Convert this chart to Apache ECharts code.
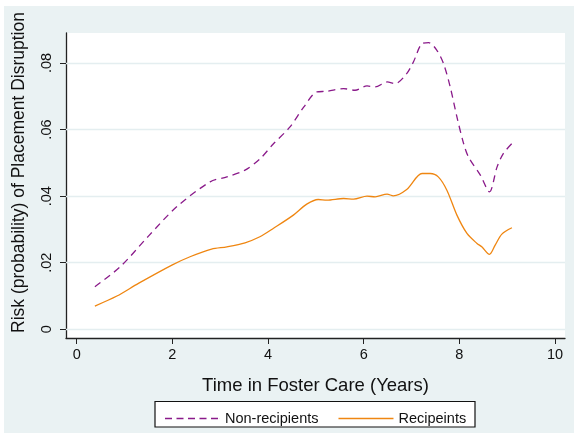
<!DOCTYPE html>
<html><head><meta charset="utf-8">
<script src="https://cdn.jsdelivr.net/npm/echarts@6/dist/echarts.min.js"></script>
<style>html,body{margin:0;padding:0;background:#fff;}#c{width:574px;height:433px;}</style>
</head><body><div id="c"></div>
<script>
const xNon = [0.38,0.91,1.5,2.09,2.79,3.14,3.52,3.84,4.1,4.46,4.75,5.02,5.23,5.58,5.82,6.07,6.24,6.49,6.66,6.9,7.04,7.22,7.36,7.53,7.67,7.81,7.95,8.09,8.19,8.44,8.63,8.79,8.92,9.1];
const yNon = [0.0128,0.0188,0.0280,0.0368,0.0443,0.0458,0.0478,0.0513,0.0555,0.0608,0.0668,0.0713,0.0715,0.0723,0.0718,0.0731,0.0728,0.0743,0.0738,0.0768,0.0803,0.0858,0.0861,0.0838,0.0798,0.0728,0.0638,0.0558,0.0518,0.0463,0.0413,0.0488,0.0528,0.0558];
const xRec = [0.38,0.84,1.29,1.99,2.37,2.82,3.14,3.52,3.83,4.11,4.53,4.81,5.05,5.23,5.58,5.79,6.07,6.24,6.49,6.62,6.9,7.22,7.39,7.56,7.74,7.95,8.16,8.37,8.47,8.63,8.75,8.89,9.1];
const yRec = [0.0070,0.0100,0.0138,0.0193,0.0218,0.0241,0.0248,0.0260,0.0278,0.0303,0.0343,0.0376,0.0390,0.0388,0.0393,0.0391,0.0400,0.0398,0.0406,0.0401,0.0420,0.0468,0.0468,0.0458,0.0418,0.0343,0.0288,0.0258,0.0248,0.0225,0.0253,0.0286,0.0305];
const xTicks = [0,2,4,6,8,10];
const yTicks = [0,0.02,0.04,0.06,0.08];
const yTickLabels = ['0','.02','.04','.06','.08'];
const seriesNames = ['Non-recipients','Recipeints'];

const pair = (xs, ys) => xs.map((x, i) => [x, ys[i]]);
const font = '"Liberation Sans", Arial, Helvetica, sans-serif';
const dashIcon = 'path://M0,0h7v1.3h-7z M11.5,0h7v1.3h-7z M23,0h7v1.3h-7z M34.5,0h7v1.3h-7z M46,0h7v1.3h-7z M54.9,0h0.1v1.3h-0.1z';
const solidIcon = 'path://M0,0h55v1.3h-55z';
const chart = echarts.init(document.getElementById('c'), null, {renderer: 'canvas'});
chart.setOption({
  animation: false,
  backgroundColor: '#fff',
  graphic: [
    {type: 'rect', z: -10, silent: true, shape: {x: 4, y: 6, width: 570, height: 427}, style: {fill: '#eaf2f3'}},
    {type: 'rect', z: -10, silent: true, shape: {x: 155, y: 401.5, width: 320, height: 25.5}, style: {fill: '#fff', stroke: '#111', lineWidth: 1.2}}
  ],
  grid: {left: 66, top: 33, width: 499, height: 305, show: true, backgroundColor: '#fff', borderWidth: 0},
  legend: {
    left: 160, top: 406, itemWidth: 55, itemHeight: 14, itemGap: 20,
    textStyle: {fontFamily: font, fontSize: 14.5, color: '#111'},
    data: [{name: seriesNames[0], icon: dashIcon}, {name: seriesNames[1], icon: solidIcon}]
  },
  xAxis: {
    type: 'value', min: -0.224, max: 10.21,
    name: 'Time in Foster Care (Years)', nameLocation: 'middle', nameGap: 38,
    nameTextStyle: {fontFamily: font, fontSize: 18.5, color: '#111'},
    axisLine: {show: true, onZero: false, lineStyle: {color: '#222', width: 1.3}},
    axisTick: {show: true, length: 6, customValues: xTicks, lineStyle: {color: '#222'}},
    axisLabel: {customValues: xTicks, fontFamily: font, fontSize: 14.5, color: '#111', margin: 9},
    splitLine: {show: false}
  },
  yAxis: {
    type: 'value', min: -0.0026, max: 0.089,
    name: 'Risk (probability) of Placement Disruption', nameLocation: 'middle', nameGap: 38,
    nameTextStyle: {fontFamily: font, fontSize: 17.5, color: '#111', padding: [0, 0, 0, 26]},
    axisLine: {show: true, onZero: false, lineStyle: {color: '#222', width: 1.3}},
    axisTick: {show: true, length: 6, customValues: yTicks, lineStyle: {color: '#222'}},
    axisLabel: {customValues: yTicks, rotate: 90, fontFamily: font, fontSize: 14.5, color: '#111', margin: 12,
      formatter: v => { const i = yTicks.findIndex(t => Math.abs(t - v) < 1e-9); return i >= 0 ? yTickLabels[i] : ''; }},
    splitLine: {show: false}
  },
  series: [
    {type: 'line', name: '__grid', data: [], silent: true, z: 1, symbol: 'none',
      markLine: {silent: true, z: 1, symbol: 'none', label: {show: false}, animation: false,
        lineStyle: {color: '#e4eef0', type: 'solid', width: 1.3},
        data: yTicks.map(v => ({yAxis: v}))}},
    {type: 'line', name: seriesNames[0], data: pair(xNon, yNon), smooth: 0.3, symbol: 'none', z: 3,
      lineStyle: {color: '#8a1a8a', width: 1.3, type: [7, 5]}, itemStyle: {color: '#8a1a8a'}},
    {type: 'line', name: seriesNames[1], data: pair(xRec, yRec), smooth: 0.3, symbol: 'none', z: 3,
      lineStyle: {color: '#ef8611', width: 1.3}, itemStyle: {color: '#ef8611'}}
  ]
});
</script></body></html>
